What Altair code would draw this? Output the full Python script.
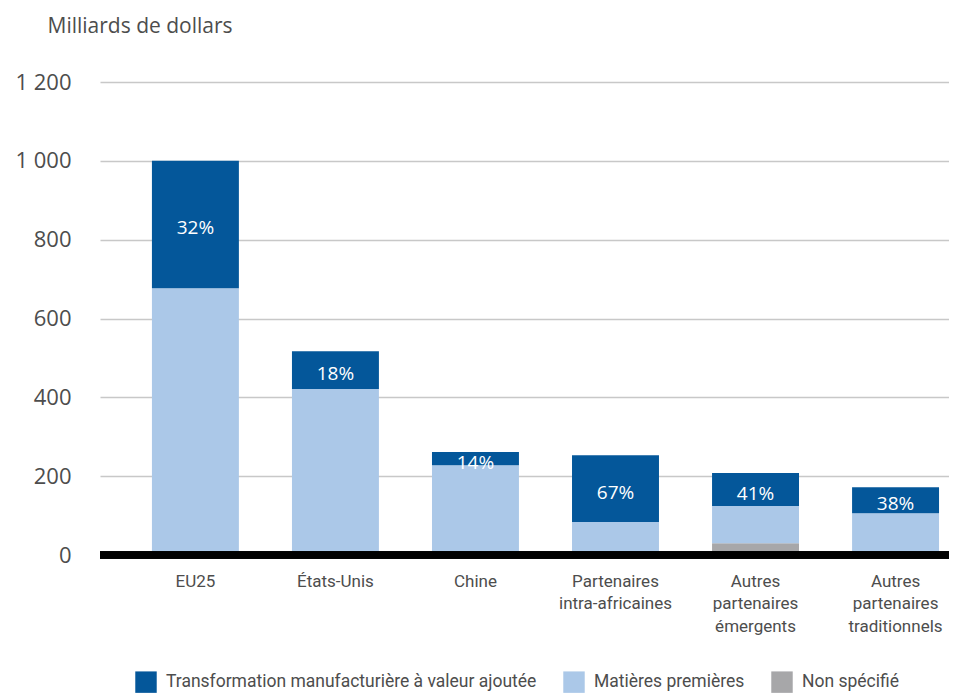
import altair as alt
import pandas as pd

categories = ["EU25", "États-Unis", "Chine", "Partenaires\nintra-africaines",
              "Autres\npartenaires\némergents", "Autres\npartenaires\ntraditionnels"]
series = ["Transformation manufacturière à valeur ajoutée", "Matières premières", "Non spécifié"]
colors = ["#04579a", "#abc8e8", "#a7a7a9"]

manuf_bottom = [5, 0, 3, 0, 0, 0]
non_specifie = [0, 0, 0, 0, 30, 0]
matieres = [672, 421, 225, 84, 94, 106]
manuf_top = [323, 96, 33, 169, 84, 66]
pct_labels = ["32%", "18%", "14%", "67%", "41%", "38%"]

rows = []
for i, c in enumerate(categories):
    rows.append({"cat": c, "serie": series[0], "val": manuf_bottom[i], "ord": 0})
    rows.append({"cat": c, "serie": series[2], "val": non_specifie[i], "ord": 1})
    rows.append({"cat": c, "serie": series[1], "val": matieres[i], "ord": 2})
    rows.append({"cat": c, "serie": series[0], "val": manuf_top[i], "ord": 3})
df = pd.DataFrame(rows)

lab_rows = []
for i, c in enumerate(categories):
    total = manuf_bottom[i] + non_specifie[i] + matieres[i] + manuf_top[i]
    lab_rows.append({"cat": c, "ypos": total - manuf_top[i] / 2, "lab": pct_labels[i]})
df_lab = pd.DataFrame(lab_rows)

MAIN_FONT = "Open Sans"
COND_FONT = "Roboto"
GREY_TEXT = "#4d4d4d"

x_enc = alt.X("cat:N", sort=categories,
              scale=alt.Scale(paddingInner=0.379, paddingOuter=0.221, align=0.839),
              axis=alt.Axis(title=None, labelAngle=0, ticks=False, domain=False,
                            labelFont=COND_FONT, labelFontSize=17, labelColor=GREY_TEXT,
                            labelBaseline="top", labelPadding=18, labelLineHeight=22.5,
                            labelExpr="split(datum.label, '\\n')"))

bars = alt.Chart(df).mark_bar().encode(
    x=x_enc,
    y=alt.Y("sum(val):Q", stack="zero",
            scale=alt.Scale(domain=[0, 1200], nice=False),
            axis=alt.Axis(values=[0, 200, 400, 600, 800, 1000, 1200], ticks=False, domain=False,
                          gridColor="#c8c8c8", gridWidth=1.5,
                          labelFont=MAIN_FONT, labelFontSize=22, labelColor=GREY_TEXT,
                          labelPadding=29,
                          labelExpr="replace(format(datum.value, ','), ',', ' ')",
                          title="Milliards de dollars", titleAngle=0, titleAlign="left",
                          titleBaseline="alphabetic", titleX=-53, titleY=-50,
                          titleFont=MAIN_FONT, titleFontSize=21, titleFontWeight="normal",
                          titleColor=GREY_TEXT)),
    color=alt.Color("serie:N", scale=alt.Scale(domain=series, range=colors),
                    legend=alt.Legend(title=None, orient="none", legendX=35, legendY=589,
                                      direction="horizontal", symbolType="square",
                                      symbolSize=460, symbolStrokeWidth=0, symbolOpacity=1,
                                      labelFont=COND_FONT, labelFontSize=17.5,
                                      labelColor=GREY_TEXT, labelLimit=600,
                                      labelOffset=9, columnPadding=26)),
    order=alt.Order("ord:Q"),
)

texts = alt.Chart(df_lab).mark_text(color="white", font=MAIN_FONT, fontSize=19,
                                    baseline="middle", dy=4).encode(
    x=alt.X("cat:N", sort=categories),
    y=alt.Y("ypos:Q"),
    text="lab:N",
)

baseline = alt.Chart(df_lab).mark_rule(color="black", strokeWidth=7).encode(
    y=alt.datum(0)
)

chart = alt.layer(bars, baseline, texts).properties(
    width=849, height=473,
    autosize=alt.AutoSizeParams(type="none"),
    padding={"left": 92, "top": 74, "right": 0, "bottom": 138},
).configure_view(stroke=None)

chart.save("out.html", embed_options={"renderer": "svg", "actions": False})
